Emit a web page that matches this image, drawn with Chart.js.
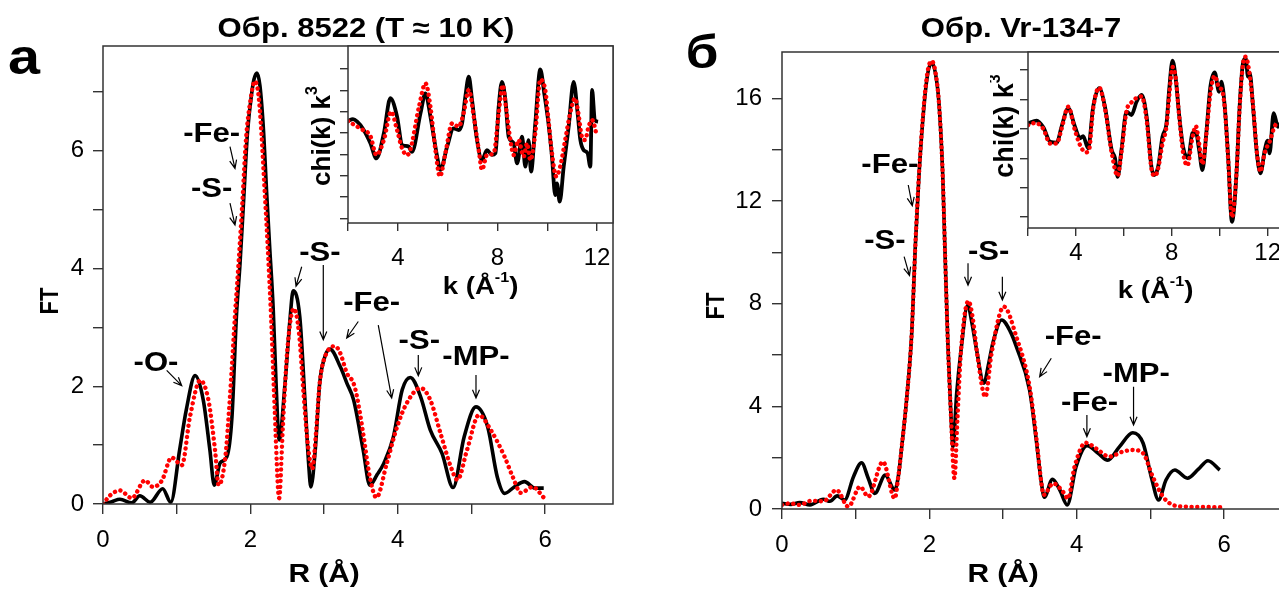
<!DOCTYPE html>
<html>
<head>
<meta charset="utf-8">
<script src="https://cdn.jsdelivr.net/npm/chart.js"></script>
<style>
  html, body { margin: 0; padding: 0; overflow: hidden; background: #fff; }
  #fig { position: relative; width: 1279px; height: 592px; overflow: hidden; }
  canvas { position: absolute; top: 0; }
</style>
</head>
<body>
<div id="fig">
  <canvas id="mainA" width="640" height="592" style="left:0"></canvas>
  <canvas id="insetA" width="340" height="310" style="left:300px"></canvas>
  <canvas id="mainB" width="680" height="592" style="left:640px"></canvas>
  <canvas id="insetB" width="330" height="310" style="left:990px"></canvas>
</div>
<script>
// ---- panel а, FT(R)
const aBlackR = [0, 0.12, 0.23, 0.39, 0.5, 0.64, 0.81, 0.92, 1.04, 1.13, 1.25, 1.36, 1.45, 1.51, 1.59, 1.68, 1.75, 1.81, 1.86, 1.91, 1.96, 2.02, 2.05, 2.09, 2.13, 2.18, 2.22, 2.26, 2.31, 2.35, 2.39, 2.47, 2.54, 2.58, 2.67, 2.74, 2.79, 2.82, 2.88, 2.94, 3.01, 3.08, 3.22, 3.31, 3.4, 3.53, 3.62, 3.72, 3.81, 3.94, 4.06, 4.17, 4.31, 4.44, 4.6, 4.75, 4.9, 5.06, 5.22, 5.35, 5.45, 5.58, 5.72, 5.86, 5.98];
const aBlackFT = [0, 0.04, 0.08, 0.02, 0.14, 0.03, 0.26, 0.03, 0.92, 1.6, 2.18, 1.77, 0.92, 0.32, 0.7, 0.8, 1.48, 3.18, 4.1, 5.2, 6.3, 7.0, 7.22, 7.32, 7.1, 6.3, 5.3, 4.4, 3.3, 2.0, 1.09, 2.05, 3.18, 3.62, 3.18, 1.77, 0.69, 0.29, 0.92, 2.05, 2.5, 2.63, 2.33, 2.05, 1.77, 0.92, 0.32, 0.5, 0.69, 1.14, 1.94, 2.15, 1.82, 1.26, 0.86, 0.28, 1.14, 1.65, 1.31, 0.46, 0.18, 0.29, 0.38, 0.27, 0.27];
const aRedR = [0, 0.1, 0.23, 0.39, 0.57, 0.68, 0.8, 0.93, 1.07, 1.18, 1.32, 1.43, 1.52, 1.57, 1.66, 1.72, 1.79, 1.84, 1.89, 1.94, 2.0, 2.06, 2.11, 2.15, 2.19, 2.23, 2.28, 2.33, 2.39, 2.44, 2.5, 2.59, 2.66, 2.72, 2.78, 2.84, 2.89, 2.94, 3.05, 3.15, 3.22, 3.31, 3.4, 3.45, 3.53, 3.62, 3.71, 3.85, 3.99, 4.12, 4.31, 4.44, 4.58, 4.72, 4.81, 4.94, 5.1, 5.26, 5.45, 5.56, 5.67, 5.83, 5.98];
const aRedFT = [0, 0.15, 0.23, 0.1, 0.4, 0.29, 0.4, 0.79, 0.66, 1.48, 2.1, 1.77, 0.92, 0.32, 0.8, 1.77, 3.18, 4.1, 5.1, 6.19, 6.85, 7.18, 6.95, 6.3, 5.4, 4.49, 3.2, 1.6, 0.1, 1.3, 2.6, 3.32, 2.9, 1.9, 1.0, 0.6, 1.2, 2.05, 2.6, 2.68, 2.56, 2.22, 2.05, 1.8, 1.2, 0.46, 0.11, 0.69, 1.31, 1.71, 1.97, 1.77, 1.2, 0.63, 0.41, 0.92, 1.51, 1.26, 0.8, 0.46, 0.19, 0.29, 0.11];

// ---- panel а inset, chi(k) k^3
const iaBlackK = [2.0, 2.2, 2.37, 2.6, 2.9, 3.14, 3.44, 3.7, 3.97, 4.17, 4.3, 4.44, 4.57, 4.91, 5.11, 5.31, 5.58, 5.71, 5.98, 6.24, 6.44, 6.58, 6.71, 6.85, 6.98, 7.18, 7.38, 7.58, 7.78, 7.92, 8.05, 8.18, 8.32, 8.45, 8.65, 8.79, 8.99, 9.12, 9.25, 9.35, 9.52, 9.72, 9.88, 10.05, 10.19, 10.32, 10.39, 10.5, 10.66, 10.86, 11.06, 11.22, 11.33, 11.46, 11.62, 11.73, 11.8, 11.91, 12.04];
const iaBlackV = [1.06, 1.15, 1.03, 0.7, 0.02, -0.69, 0.49, 2.13, 1.27, -0.06, -0.1, -0.14, -0.38, 1.42, 2.36, 1.27, -0.61, -1.23, -0.14, 0.72, 0.64, 0.95, 2.2, 3.14, 2.05, 0.17, -0.77, -0.3, -0.53, -0.45, 1.73, 2.9, 2.05, 0.33, 0.02, -0.92, 0.33, -1.08, 0.17, -1.31, 0.95, 3.48, 2.36, 0.95, -0.61, -2.41, -1.86, -2.72, -1.08, 0.8, 2.9, 1.42, 0.17, -0.3, -0.45, -1.08, 2.52, 1.11, 1.03];
const iaRedK = [2.0, 2.5, 2.9, 3.14, 3.44, 3.73, 3.97, 4.17, 4.37, 4.5, 4.85, 5.11, 5.31, 5.51, 5.69, 5.91, 6.18, 6.44, 6.64, 6.85, 7.05, 7.25, 7.38, 7.58, 7.85, 8.05, 8.21, 8.34, 8.52, 8.65, 8.85, 9.05, 9.19, 9.32, 9.52, 9.72, 9.92, 10.05, 10.19, 10.36, 10.52, 10.72, 10.92, 11.12, 11.25, 11.39, 11.52, 11.66, 11.8, 12.0];
const iaRedV = [1.06, 0.7, 0.35, -0.53, 0.17, 1.5, 0.64, -0.22, -0.53, -0.3, 1.73, 2.83, 1.73, -0.3, -1.54, -0.45, 0.95, 0.8, 1.42, 2.52, 1.27, -0.3, -1.23, -0.53, -0.45, 1.42, 2.75, 1.73, 0.17, -0.53, 0.17, -0.61, 0.02, -0.77, 0.49, 3.0, 2.52, 1.11, -0.45, -1.54, -1.08, 0.17, 1.42, 2.13, 1.42, 0.33, 0.17, 0.8, 1.11, 0.33];

// ---- panel б, FT(R)
const bBlackR = [0, 0.12, 0.24, 0.38, 0.56, 0.65, 0.75, 0.85, 0.97, 1.08, 1.17, 1.26, 1.4, 1.53, 1.58, 1.62, 1.69, 1.76, 1.81, 1.86, 1.93, 1.98, 2.03, 2.08, 2.13, 2.18, 2.21, 2.25, 2.29, 2.32, 2.37, 2.43, 2.52, 2.58, 2.64, 2.74, 2.8, 2.86, 2.98, 3.1, 3.18, 3.36, 3.45, 3.52, 3.56, 3.67, 3.77, 3.87, 3.99, 4.14, 4.29, 4.42, 4.58, 4.76, 4.9, 5.01, 5.11, 5.21, 5.33, 5.5, 5.65, 5.78, 5.94];
const bBlackFT = [0.22, 0.18, 0.25, 0.16, 0.38, 0.3, 0.51, 0.35, 1.26, 1.8, 1.2, 0.61, 1.32, 0.74, 1.3, 2.3, 4.24, 6.84, 10.3, 13.07, 15.8, 17.0, 17.38, 17.0, 15.8, 13.07, 10.2, 6.5, 3.8, 2.43, 4.5, 6.2, 7.94, 7.2, 6.2, 4.9, 5.6, 6.45, 7.36, 6.9, 6.32, 4.63, 2.69, 1.0, 0.46, 1.16, 0.74, 0.16, 1.65, 2.47, 2.17, 1.9, 2.43, 2.97, 2.56, 1.26, 0.35, 1.13, 1.52, 1.2, 1.55, 1.88, 1.52];
const bRedR = [0, 0.11, 0.24, 0.4, 0.56, 0.74, 0.9, 1.06, 1.17, 1.37, 1.53, 1.58, 1.62, 1.69, 1.76, 1.81, 1.86, 1.93, 1.98, 2.03, 2.08, 2.13, 2.18, 2.21, 2.25, 2.29, 2.34, 2.38, 2.43, 2.53, 2.59, 2.65, 2.76, 2.84, 3.01, 3.18, 3.36, 3.45, 3.52, 3.55, 3.68, 3.81, 3.88, 3.97, 4.12, 4.27, 4.44, 4.62, 4.76, 4.9, 5.03, 5.17, 5.3, 5.48, 5.7, 5.95];
const bRedFT = [0.16, 0.22, 0.16, 0.32, 0.3, 0.74, 0.09, 0.87, 0.48, 1.84, 0.41, 1.3, 2.3, 4.24, 6.84, 10.3, 13.1, 15.9, 17.1, 17.45, 17.05, 15.8, 13.07, 10.2, 6.5, 3.8, 1.2, 3.5, 6.2, 8.1, 7.4, 6.0, 4.37, 6.0, 7.88, 6.71, 4.76, 2.8, 1.0, 0.55, 1.0, 0.68, 0.41, 1.65, 2.58, 2.34, 2.04, 2.23, 2.3, 2.17, 1.26, 0.48, 0.16, 0.09, 0.08, 0.07];

// ---- panel б inset, chi(k) k^3
const ibBlackK = [2.0, 2.36, 2.64, 2.92, 3.2, 3.4, 3.68, 3.96, 4.17, 4.3, 4.51, 4.72, 4.97, 5.21, 5.49, 5.63, 5.74, 5.9, 6.11, 6.32, 6.53, 6.74, 6.95, 7.15, 7.26, 7.43, 7.61, 7.78, 7.89, 8.03, 8.17, 8.3, 8.47, 8.68, 8.86, 9.0, 9.14, 9.28, 9.44, 9.61, 9.79, 9.97, 10.07, 10.21, 10.35, 10.51, 10.7, 10.83, 10.97, 11.08, 11.18, 11.25, 11.39, 11.55, 11.7, 11.88, 12.0, 12.08, 12.25, 12.43, 12.6];
const ibBlackV = [0.69, 0.78, 0.55, 0.06, 0.03, 0.57, 1.2, 0.57, 0.18, 0.25, -0.16, 1.25, 1.88, 1.25, -0.22, -0.5, -1.13, -0.22, 1.08, 0.97, 1.42, 1.65, 0.91, -0.79, -1.07, -0.79, 0.23, 0.69, 1.82, 2.82, 2.16, 1.03, -0.11, -0.5, 0.35, 0.4, -0.22, -0.9, 0.35, 1.93, 2.42, 1.76, 2.1, 1.25, -0.45, -2.66, -1.01, 1.25, 2.73, 2.9, 2.27, 2.4, 1.25, -0.33, -1.01, -0.22, 0.1, -0.33, 1.03, 0.57, 0.8];
const ibRedK = [2.0, 2.3, 2.64, 2.92, 3.2, 3.4, 3.68, 3.96, 4.17, 4.4, 4.55, 4.72, 4.97, 5.21, 5.49, 5.74, 5.9, 6.11, 6.32, 6.53, 6.74, 6.95, 7.15, 7.3, 7.43, 7.61, 7.78, 7.89, 8.03, 8.17, 8.3, 8.47, 8.65, 8.86, 9.0, 9.14, 9.28, 9.44, 9.61, 9.79, 9.97, 10.1, 10.21, 10.35, 10.51, 10.7, 10.83, 10.97, 11.08, 11.2, 11.39, 11.55, 11.7, 11.88, 12.1, 12.3, 12.5];
const ibRedV = [0.62, 0.7, 0.5, 0.0, 0.0, 0.5, 1.25, 0.45, -0.05, -0.3, -0.2, 1.2, 1.9, 1.2, -0.3, -1.1, -0.3, 1.1, 1.4, 1.55, 1.6, 0.8, -0.85, -1.1, -0.85, 0.0, 0.6, 1.6, 2.6, 2.2, 1.0, -0.3, -0.75, 0.2, 0.6, 0.0, -0.7, 0.3, 1.7, 2.3, 1.9, 1.8, 1.2, -0.5, -2.5, -1.0, 1.2, 2.7, 2.95, 2.6, 1.3, -0.3, -0.95, -0.3, 0.1, 0.6, 0.7];

// ---- ticks
const mainRTicks = [0, 1, 2, 3, 4, 5, 6];
const mainRLabels = [0, 2, 4, 6];
const aFTTicks = [0, 1, 2, 3, 4, 5, 6, 7];
const aFTLabels = [0, 2, 4, 6];
const bFTTicks = [0, 2, 4, 6, 8, 10, 12, 14, 16];
const bFTLabels = [0, 4, 8, 12, 16];
const kTicks = [2, 4, 6, 8, 10, 12];
const kLabels = [4, 8, 12];
const iaVTicks = [-3.5, -2.5, -1.5, -0.5, 0.5, 1.5, 2.5, 3.5];
const ibVTicks = [-2.5, -1.5, -0.5, 0.5, 1.5, 2.5];

// ---- peak labels: text, R, FT, arrows [R1, FT1, R2, FT2]
const annA = [
  ['-Fe-', 1.475, 6.27, [1.723, 6.07, 1.791, 5.70]],
  ['-S-', 1.475, 5.34, [1.723, 5.11, 1.791, 4.74]],
  ['-S-', 2.944, 4.26, [2.696, 4.03, 2.619, 3.70], [2.989, 4.06, 2.989, 2.79]],
  ['-Fe-', 3.646, 3.41, [3.464, 3.10, 3.307, 2.82], [3.735, 3.04, 3.917, 1.80]],
  ['-S-', 4.292, 2.76, [4.278, 2.53, 4.278, 2.18]],
  ['-MP-', 5.061, 2.48, [5.061, 2.19, 5.061, 1.80]],
  ['-O-', 0.719, 2.39, [0.864, 2.27, 1.068, 2.01]]
];
const annB = [
  ['-Fe-', 1.463, 13.36, [1.713, 12.62, 1.768, 11.81]],
  ['-S-', 1.396, 10.42, [1.657, 9.83, 1.730, 9.09]],
  ['-S-', 2.805, 9.97, [2.524, 9.57, 2.524, 8.72], [2.990, 9.05, 2.990, 8.14]],
  ['-Fe-', 3.951, 6.67, [3.654, 5.87, 3.496, 5.15]],
  ['-Fe-', 4.173, 4.12, [4.137, 3.66, 4.137, 2.82]],
  ['-MP-', 4.806, 5.22, [4.770, 4.76, 4.770, 3.27]]
];

const FAM = '"Liberation Sans", Arial, sans-serif';
const B = s => 'bold ' + s + 'px ' + FAM;
const SX = 1.15; // the source figure is stretched sideways

function label(ctx, parts, x, y, rot, sx) {
  ctx.save();
  ctx.translate(x, y);
  ctx.scale(sx || SX, 1);
  if (rot) ctx.rotate(rot);
  ctx.fillStyle = '#000';
  ctx.textBaseline = 'middle';
  ctx.textAlign = 'left';
  let w = 0;
  parts.forEach(p => { ctx.font = p[1]; w += ctx.measureText(p[0]).width; });
  let cx = -w / 2;
  parts.forEach(p => {
    ctx.font = p[1];
    ctx.fillText(p[0], cx, p[2] || 0);
    cx += ctx.measureText(p[0]).width;
  });
  ctx.restore();
}

function arrow(ctx, x1, y1, x2, y2) {
  const a = Math.atan2(y2 - y1, x2 - x1), h = 9, s = 0.4;
  ctx.save();
  ctx.strokeStyle = '#000';
  ctx.lineWidth = 1.2;
  ctx.beginPath();
  ctx.moveTo(x1, y1); ctx.lineTo(x2, y2);
  ctx.moveTo(x2 - h * Math.cos(a - s), y2 - h * Math.sin(a - s));
  ctx.lineTo(x2, y2);
  ctx.lineTo(x2 - h * Math.cos(a + s), y2 - h * Math.sin(a + s));
  ctx.stroke();
  ctx.restore();
}

function drawNotes(chart, notes) {
  const {ctx, scales: {x, y}} = chart;
  notes.forEach(n => {
    label(ctx, [[n[0], B(27)]], x.getPixelForValue(n[1]), y.getPixelForValue(n[2]));
    n.slice(3).forEach(a => arrow(ctx,
      x.getPixelForValue(a[0]), y.getPixelForValue(a[1]),
      x.getPixelForValue(a[2]), y.getPixelForValue(a[3])));
  });
}

function frame(deco, fillWhite) {
  return {
    id: 'frame',
    beforeDraw(chart) {
      if (!fillWhite) return;
      const {ctx, chartArea: c} = chart;
      ctx.save(); ctx.fillStyle = '#fff';
      ctx.fillRect(c.left, c.top, c.right - c.left, c.bottom - c.top);
      ctx.restore();
    },
    afterDraw(chart) {
      const {ctx, chartArea: c} = chart;
      ctx.save(); ctx.strokeStyle = '#333'; ctx.lineWidth = 1.5;
      ctx.strokeRect(c.left, c.top, c.right - c.left, c.bottom - c.top);
      ctx.restore();
      deco(chart);
    }
  };
}

function axis(min, max, ticks, labels, size, tl, pad, vertical) {
  return {
    type: 'linear', min: min, max: max,
    afterBuildTicks: s => { s.ticks = ticks.map(v => ({value: v})); },
    afterFit: s => { if (vertical) s.width = size; else s.height = size; },
    grid: {drawOnChartArea: false, drawTicks: true, tickLength: tl, color: '#333', lineWidth: 1.4},
    border: {display: false},
    ticks: {
      padding: pad, autoSkip: false, maxRotation: 0, color: '#000',
      font: {family: FAM, size: 24},
      callback: v => labels.indexOf(v) >= 0 ? String(v) : ''
    }
  };
}

function lines(bx, by, rx, ry, wb) {
  const pts = (xs, ys) => xs.map((v, i) => ({x: v, y: ys[i]}));
  return [
    {data: pts(rx, ry), borderColor: '#f00', borderWidth: 4.4, borderDash: [0.1, 5.6],
     borderCapStyle: 'round', pointRadius: 0, cubicInterpolationMode: 'monotone', order: 0},
    {data: pts(bx, by), borderColor: '#000', borderWidth: wb, pointRadius: 0,
     cubicInterpolationMode: 'monotone', order: 1}
  ];
}

function make(id, datasets, xAx, yAx, padding, plugin) {
  return new Chart(document.getElementById(id), {
    type: 'line',
    data: {datasets: datasets},
    options: {
      responsive: false, animation: false, events: [],
      layout: {padding: padding},
      plugins: {legend: {display: false}, tooltip: {enabled: false}},
      scales: {x: xAx, y: yAx}
    },
    plugins: [plugin]
  });
}

// panel а
make('mainA', lines(aBlackR, aBlackFT, aRedR, aRedFT, 3.6),
  axis(0, 6.92, mainRTicks, mainRLabels, 88, 10, 12, false),
  axis(0, 7.78, aFTTicks, aFTLabels, 103, 10, 9, true),
  {top: 46, right: 27, left: 0, bottom: 0},
  frame(chart => {
    const {ctx, scales: {x}} = chart;
    label(ctx, [['Обр. 8522 (T ≈ 10 K)', B(27)]], 366, 30);
    label(ctx, [['а', B(50)]], 24, 60);
    label(ctx, [['FT', B(22)]], 51, 301, -Math.PI / 2);
    label(ctx, [['R (Å)', B(26)]], x.getPixelForValue(3), 575);
    drawNotes(chart, annA);
  }, false));

make('insetA', lines(iaBlackK, iaBlackV, iaRedK, iaRedV, 3.8),
  axis(2, 12.64, kTicks, kLabels, 87, 8, 13, false),
  axis(-3.72, 4.58, iaVTicks, [], 48, 8, 4, true),
  {top: 46, right: 27, left: 0, bottom: 0},
  frame(chart => {
    const {ctx, chartArea: c} = chart;
    label(ctx, [['chi(k) k', B(26)], ['3', B(16), -10]], 23, 136, -Math.PI / 2, 1);
    label(ctx, [['k (Å', B(24)], ['-1', B(14), -9], [')', B(24)]], (c.left + c.right) / 2, 287);
  }, true));

// panel б
make('mainB', lines(bBlackR, bBlackFT, bRedR, bRedFT, 3.6),
  axis(0, 6.92, mainRTicks, mainRLabels, 83, 10, 12, false),
  axis(0, 17.8, bFTTicks, bFTLabels, 142, 10, 10, true),
  {top: 52, right: 28, left: 0, bottom: 0},
  frame(chart => {
    const {ctx, scales: {x}} = chart;
    label(ctx, [['Обр. Vr-134-7', B(27)]], 381, 30);
    label(ctx, [['б', B(46)]], 62, 55);
    label(ctx, [['FT', B(22)]], 77, 306, -Math.PI / 2);
    label(ctx, [['R (Å)', B(26)]], x.getPixelForValue(3), 575);
    drawNotes(chart, annB);
  }, false));

make('insetB', lines(ibBlackK, ibBlackV, ibRedK, ibRedV, 3.8),
  axis(2, 12.64, kTicks, kLabels, 82, 8, 3, false),
  axis(-2.87, 3.11, ibVTicks, [], 38, 8, 4, true),
  {top: 52, right: 37, left: 0, bottom: 0},
  frame(chart => {
    const {ctx, chartArea: c} = chart;
    label(ctx, [['chi(k) k', B(27)], ['3', B(16), -10]], 16, 126, -Math.PI / 2, 1);
    label(ctx, [['k (Å', B(24)], ['-1', B(14), -9], [')', B(24)]], (c.left + c.right) / 2, 291);
  }, true));
</script>
</body>
</html>
